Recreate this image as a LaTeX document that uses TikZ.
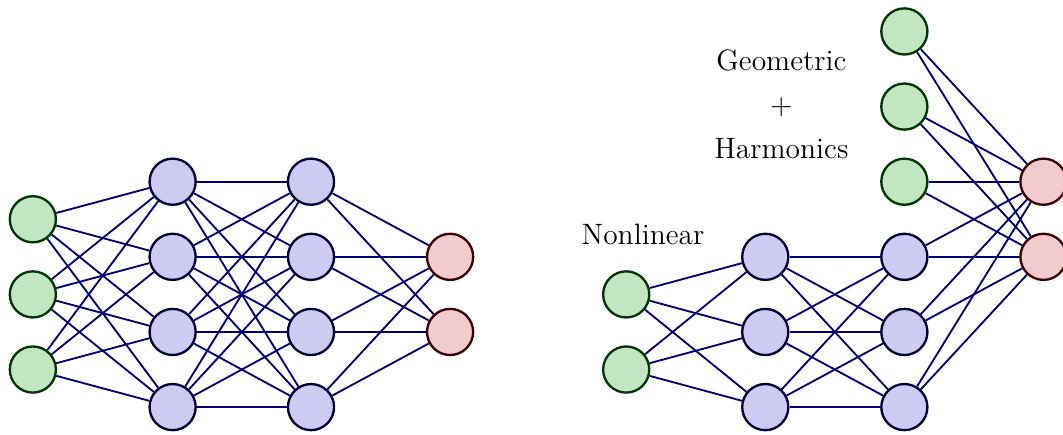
\documentclass[tikz,border=0pt,12pt]{standalone}
\usepackage{amsmath}

\definecolor{inFill}{RGB}{193,230,193}
\definecolor{inLine}{RGB}{0,55,0}
\definecolor{hidFill}{RGB}{204,204,242}
\definecolor{hidLine}{RGB}{0,0,55}
\definecolor{outFill}{RGB}{242,204,204}
\definecolor{outLine}{RGB}{60,0,0}
\definecolor{wireCol}{RGB}{0,0,115}

\tikzset{
    neuron/.style={circle, line width=0.95pt, minimum size=0.66cm, inner sep=0pt},
    inNeuron/.style={neuron, draw=inLine, fill=inFill},
    hidNeuron/.style={neuron, draw=hidLine, fill=hidFill},
    outNeuron/.style={neuron, draw=outLine, fill=outFill},
    wire/.style={draw=wireCol, line width=0.75pt}
}

\begin{document}
\begin{tikzpicture}
\useasboundingbox (0,0) rectangle (15.21,-6.21);

% left network
\foreach \i/\y in {1/-3.1375, 2/-4.2125, 3/-5.2875}
    \node[inNeuron] (LI\i) at (0.47,\y) {};
\foreach \i/\y in {1/-2.6, 2/-3.675, 3/-4.75, 4/-5.825} {
    \node[hidNeuron] (LA\i) at (2.47,\y) {};
    \node[hidNeuron] (LB\i) at (4.45,\y) {};
}
\foreach \i/\y in {1/-3.675, 2/-4.75}
    \node[outNeuron] (LO\i) at (6.44,\y) {};

\foreach \i in {1,2,3}
    \foreach \j in {1,...,4}
        \draw[wire] (LI\i) -- (LA\j);
\foreach \i in {1,...,4}
    \foreach \j in {1,...,4}
        \draw[wire] (LA\i) -- (LB\j);
\foreach \i in {1,...,4}
    \foreach \j in {1,2}
        \draw[wire] (LB\i) -- (LO\j);

% right network
\foreach \i/\y in {1/-4.2125, 2/-5.2875}
    \node[inNeuron] (RI\i) at (8.96,\y) {};
\foreach \i/\y in {1/-3.675, 2/-4.75, 3/-5.825} {
    \node[hidNeuron] (RA\i) at (10.95,\y) {};
    \node[hidNeuron] (RB\i) at (12.94,\y) {};
}
\foreach \i/\y in {1/-0.45, 2/-1.525, 3/-2.6}
    \node[inNeuron] (RG\i) at (12.94,\y) {};
\foreach \i/\y in {1/-2.6, 2/-3.675}
    \node[outNeuron] (RO\i) at (14.93,\y) {};

\foreach \i in {1,2}
    \foreach \j in {1,2,3}
        \draw[wire] (RI\i) -- (RA\j);
\foreach \i in {1,2,3}
    \foreach \j in {1,2,3}
        \draw[wire] (RA\i) -- (RB\j);
\foreach \s in {RG1,RG2,RG3,RB1,RB2,RB3}
    \foreach \j in {1,2}
        \draw[wire] (\s) -- (RO\j);

% labels
\node (nonlin) at (9.20,-3.36) {Nonlinear};
\node[align=center] (geoharm) at (11.18,-1.49) {Geometric\\[3.5pt]+\\[3.5pt]Harmonics};
\end{tikzpicture}
\end{document}
